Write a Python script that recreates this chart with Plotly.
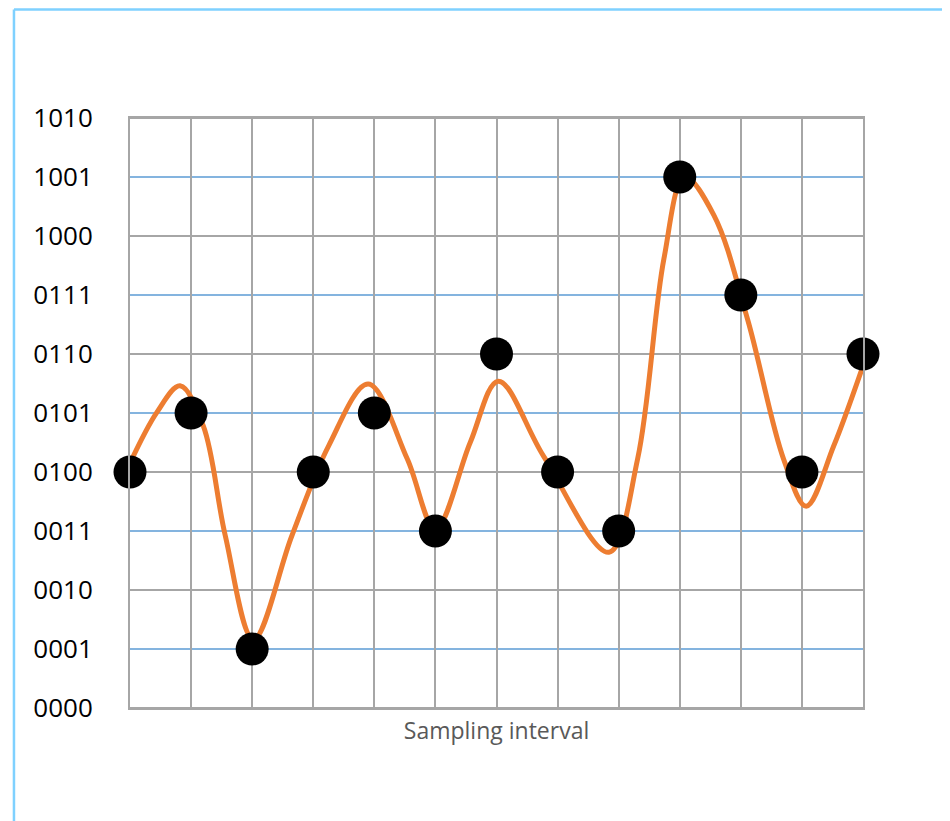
import plotly.graph_objects as go

# Quantised sample codes at each sampling instant (0..12)
sample_x = list(range(13))
sample_code = [4, 5, 1, 4, 5, 3, 6, 4, 3, 9, 7, 4, 6]

# Analog signal (x in sampling intervals, y in code levels)
curve_x = [0, 0.44, 0.82, 1.2, 1.56, 2.02, 2.65, 3.25, 3.9, 4.54, 5.0, 5.57,
           6.03, 6.77, 7.84, 8.31, 8.74, 9.08, 9.56, 10.11, 10.7, 11.07,
           11.52, 12]
curve_y = [4.15, 5.01, 5.46, 4.78, 2.92, 1.16, 2.92, 4.44, 5.49, 4.22, 3.03, 4.5,
           5.54, 4.27, 2.64, 4.22, 7.61, 9.0, 8.35, 6.59, 4.22, 3.42,
           4.44, 5.8]

levels = list(range(11))
level_labels = ["0000", "0001", "0010", "0011", "0100", "0101",
                "0110", "0111", "1000", "1001", "1010"]

x_title = "Sampling interval"

GRAY = "#a6a6a6"
BLUE = "#5b9bd5"
ORANGE = "#ed7d31"

fig = go.Figure()

fig.add_trace(go.Scatter(
    x=curve_x, y=curve_y, mode="lines",
    line=dict(color=ORANGE, width=5, shape="spline", smoothing=1.0),
    hoverinfo="skip", showlegend=False,
))
fig.add_trace(go.Scatter(
    x=sample_x, y=sample_code, mode="markers",
    marker=dict(color="black", size=33),
    cliponaxis=False, showlegend=False,
))

# horizontal grid: gray at even codes, blue at odd codes
for lv in levels:
    fig.add_shape(type="line", xref="x", yref="y", x0=0, x1=12, y0=lv, y1=lv,
                  line=dict(color=GRAY if lv % 2 == 0 else BLUE,
                            width=2 if lv % 2 == 0 else 1.4),
                  layer="below")

# outer light-blue frame
fig.add_shape(type="line", xref="paper", yref="paper",
              x0=-0.1583, x1=-0.1583, y0=-0.4, y1=1.1839,
              line=dict(color="#7fd1ff", width=2.5))
fig.add_shape(type="line", xref="paper", yref="paper",
              x0=-0.1583, x1=1.4, y0=1.1839, y1=1.1839,
              line=dict(color="#7fd1ff", width=2.5))

fig.update_xaxes(
    range=[0, 12], tickmode="linear", tick0=0, dtick=1,
    showgrid=True, gridcolor=GRAY, gridwidth=2,
    showticklabels=False, zeroline=False,
    showline=True, linecolor=GRAY, linewidth=2, mirror=True,
    title=dict(text=x_title, font=dict(family="Open Sans", size=23, color="#595959"),
               standoff=14),
)
fig.update_yaxes(
    range=[0, 10], tickmode="array", tickvals=levels, ticktext=level_labels,
    showgrid=False, zeroline=False,
    showline=True, linecolor=GRAY, linewidth=2, mirror=True,
    ticks="outside", ticklen=30, tickcolor="rgba(0,0,0,0)",
    tickfont=dict(family="Open Sans", size=26, color="black"),
)

fig.update_layout(
    width=950, height=821,
    margin=dict(l=122, r=95, t=110, b=121),
    plot_bgcolor="white", paper_bgcolor="white",
    showlegend=False,
)

fig.write_html("out.html")
